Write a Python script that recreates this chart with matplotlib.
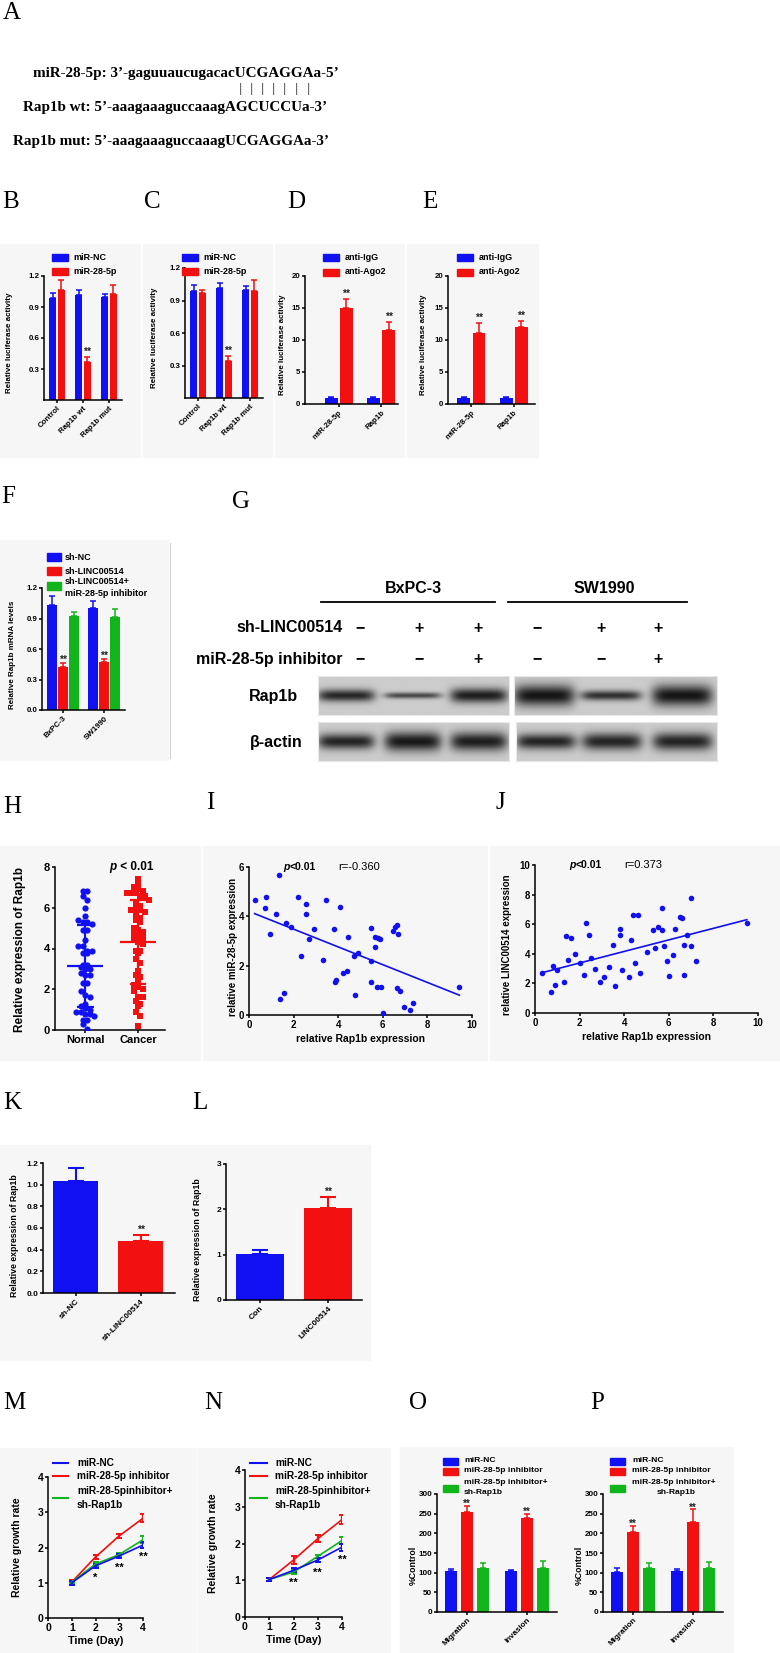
import numpy as np
import matplotlib.pyplot as plt
from matplotlib.patches import Rectangle
from matplotlib.lines import Line2D

plt.rcParams['font.family'] = ['Liberation Sans', 'DejaVu Sans']

BLUE = '#1010f2'
RED = '#f21010'
GREEN = '#12b41c'
BOX = '#f6f6f6'

# ---------------- data ----------------
seq_mir = "miR-28-5p: 3’-gaguuaucugacacUCGAGGAa-5’"
seq_wt = "Rap1b wt: 5’-aaagaaaguccaaagAGCUCCUa-3’"
seq_mut = "Rap1b mut: 5’-aaagaaaguccaaagUCGAGGAa-3’"
seed = "UCGAGGA"

luc_cats = ['Control', 'Rap1b wt', 'Rap1b mut']
b_nc = [0.99, 1.02, 1.00]
b_nc_err = [0.05, 0.04, 0.03]
b_mir = [1.06, 0.37, 1.03]
b_mir_err = [0.10, 0.05, 0.08]
c_nc = [0.99, 1.02, 1.00]
c_nc_err = [0.05, 0.04, 0.03]
c_mir = [0.97, 0.34, 0.99]
c_mir_err = [0.03, 0.05, 0.10]

rip_cats = ['miR-28-5p', 'Rap1b']
d_igg = [1.0, 1.0]
d_igg_err = [0.1, 0.1]
d_ago = [15.0, 11.5]
d_ago_err = [1.4, 1.3]
e_igg = [1.0, 1.0]
e_igg_err = [0.1, 0.1]
e_ago = [11.1, 12.0]
e_ago_err = [1.6, 1.0]

f_cats = ['BxPC-3', 'SW1990']
f_nc = [1.03, 1.00]
f_nc_err = [0.09, 0.07]
f_sh = [0.42, 0.47]
f_sh_err = [0.04, 0.03]
f_inh = [0.92, 0.91]
f_inh_err = [0.04, 0.08]

g_rows = ['sh-LINC00514', 'miR-28-5p inhibitor']
g_signs = [['−', '+', '+', '−', '+', '+'],
           ['−', '−', '+', '−', '−', '+']]
rap1b_strength = [0.90, 0.72, 0.95, 1.00, 0.85, 1.00]
rap1b_thick = [0.16, 0.08, 0.19, 0.27, 0.13, 0.27]
actin_strength = [0.92, 0.98, 0.95, 0.92, 0.92, 0.92]
actin_thick = [0.20, 0.25, 0.24, 0.20, 0.22, 0.23]

h_normal = [6.8, 6.8, 6.6, 6.4, 6.0, 5.6, 5.4, 5.3, 5.3, 5.2, 4.9, 4.9, 4.4, 4.1, 4.1,
            3.9, 3.9, 3.8, 3.8, 3.2, 3.2, 3.1, 3.0, 3.0, 2.8, 2.7, 2.7, 2.3, 2.3, 1.9,
            1.7, 1.6, 1.3, 1.2, 1.1, 1.0, 0.9, 0.9, 0.8, 0.8, 0.7, 0.5, 0.5, 0.3, 0.05]
h_cancer = [7.4, 7.2, 7.0, 6.9, 6.8, 6.7, 6.7, 6.7, 6.6, 6.6, 6.4, 6.2, 6.1, 5.9, 5.9,
            5.9, 5.8, 5.7, 5.5, 5.4, 5.3, 5.0, 4.9, 4.8, 4.7, 4.6, 4.5, 4.4, 4.3, 4.2,
            3.9, 3.9, 3.8, 3.5, 3.3, 2.9, 2.7, 2.6, 2.4, 2.2, 2.1, 2.0, 1.9, 1.6, 1.6,
            1.4, 1.3, 1.2, 0.9, 0.7, 0.2]

i_x = [0.25, 0.70, 0.78, 0.93, 1.20, 1.35, 1.41, 1.56, 1.65, 1.90, 2.20, 2.35, 2.55, 2.55,
       2.70, 2.90, 3.33, 3.45, 3.80, 3.85, 3.90, 4.08, 4.23, 4.38, 4.44, 4.70, 4.74, 4.90,
       5.46, 5.46, 5.49, 5.64, 5.67, 5.76, 5.80, 5.88, 5.91, 6.03, 6.45, 6.55, 6.63, 6.66,
       6.63, 6.78, 6.96, 7.20, 7.35, 9.43]
i_y = [4.67, 4.34, 4.77, 3.29, 4.10, 5.69, 0.65, 0.91, 3.73, 3.56, 4.77, 2.40, 4.51, 4.10,
       3.08, 3.50, 2.21, 4.67, 3.50, 1.33, 1.40, 4.38, 1.69, 1.80, 3.16, 2.40, 0.81, 2.53,
       3.51, 1.33, 2.17, 3.16, 2.74, 1.15, 3.12, 3.09, 1.15, 0.07, 3.39, 3.56, 3.66, 3.29,
       1.11, 0.99, 0.34, 0.20, 0.50, 1.12]
i_fit = [4.20, -0.36]   # intercept, slope

j_x = [0.3, 0.7, 0.8, 0.9, 1.0, 1.3, 1.4, 1.5, 1.6, 1.8, 2.0, 2.2, 2.3, 2.4, 2.5, 2.7, 2.9,
       3.1, 3.3, 3.5, 3.6, 3.8, 3.8, 3.9, 4.2, 4.3, 4.4, 4.6, 4.5, 4.7, 5.0, 5.3, 5.5, 5.4,
       5.7, 5.7, 5.8, 5.9, 6.0, 6.2, 6.3, 6.5, 6.6, 6.7, 6.8, 6.7, 7.0, 7.0, 7.2, 9.5]
j_y = [2.7, 1.4, 3.2, 1.9, 2.9, 2.1, 5.2, 3.6, 5.1, 4.0, 3.4, 2.6, 6.1, 5.3, 3.7, 3.0, 2.1,
       2.4, 3.1, 4.6, 1.8, 5.7, 5.3, 2.9, 2.4, 4.9, 6.6, 6.6, 3.4, 2.7, 4.1, 5.6, 5.8, 4.4,
       7.1, 5.6, 4.5, 3.5, 2.5, 3.9, 5.7, 6.5, 6.4, 4.6, 5.3, 2.6, 4.5, 7.8, 3.5, 6.1]
j_fit = [2.60, 0.39]

k_cats = ['sh-NC', 'sh-LINC00514']
k_vals = [1.03, 0.48]
k_err = [0.12, 0.06]
l_cats = ['Con', 'LINC00514']
l_vals = [1.02, 2.02]
l_err = [0.09, 0.26]

days = [1, 2, 3, 4]
m_nc = [1.00, 1.48, 1.76, 2.07]
m_nc_err = [0.06, 0.06, 0.05, 0.09]
m_inh = [1.02, 1.73, 2.33, 2.83]
m_inh_err = [0.05, 0.07, 0.06, 0.11]
m_sh = [1.02, 1.53, 1.80, 2.22]
m_sh_err = [0.04, 0.06, 0.05, 0.10]
m_marks = ['', '*', '**', '**']
n_nc = [1.02, 1.27, 1.55, 1.90]
n_nc_err = [0.05, 0.05, 0.06, 0.10]
n_inh = [1.02, 1.55, 2.13, 2.65]
n_inh_err = [0.05, 0.10, 0.10, 0.12]
n_sh = [1.02, 1.22, 1.65, 2.08]
n_sh_err = [0.04, 0.05, 0.05, 0.10]
n_marks = ['', '**', '**', '**']

mig_cats = ['Migration', 'Invasion']
o_nc = [103, 103]
o_nc_err = [7, 4]
o_inh = [255, 238]
o_inh_err = [15, 12]
o_sh = [113, 113]
o_sh_err = [11, 16]
p_nc = [102, 103]
p_nc_err = [11, 7]
p_inh = [203, 229]
p_inh_err = [16, 32]
p_sh = [112, 113]
p_sh_err = [12, 14]

# ---------------- helpers ----------------
W, H = 780, 1653
fig = plt.figure(figsize=(7.8, 16.53), dpi=100)


def axes_px(x0, y0, x1, y1):
    return fig.add_axes([x0 / W, 1 - y1 / H, (x1 - x0) / W, (y1 - y0) / H])


def ftext(x, y, s, **kw):
    return fig.text(x / W, 1 - y / H, s, **kw)


def frect(x0, y0, x1, y1, color, z=-1):
    fig.patches.append(Rectangle((x0 / W, 1 - y1 / H), (x1 - x0) / W, (y1 - y0) / H,
                                 transform=fig.transFigure, color=color, zorder=z))


def fline(x0, y0, x1, y1, **kw):
    fig.add_artist(Line2D([x0 / W, x1 / W], [1 - y0 / H, 1 - y1 / H],
                          transform=fig.transFigure, **kw))


def style(ax, fs):
    ax.set_facecolor('none')
    ax.spines[['top', 'right']].set_visible(False)
    ax.spines[['left', 'bottom']].set_linewidth(1.1)
    ax.tick_params(length=2.5, width=1.1, labelsize=fs, pad=1)
    for lab in ax.get_xticklabels() + ax.get_yticklabels():
        lab.set_fontweight('bold')


def grouped(ax, series, errs, colors, width, offsets, cats, rot=45, fs=5.5):
    x = np.arange(len(cats))
    for vals, e, c, off in zip(series, errs, colors, offsets):
        ax.bar(x + off, vals, width, color=c,
               yerr=[np.zeros(len(e)), e],
               error_kw=dict(ecolor=c, elinewidth=1.1, capsize=2, capthick=1.1))
    ax.set_xticks(x)
    ax.set_xticklabels(cats, rotation=rot, ha='right', rotation_mode='anchor', fontsize=fs)
    return x


def stars(ax, xs, vals, errs, pad, s='**', fs=7.5):
    for xx, v, e in zip(xs, vals, errs):
        ax.text(xx, v + e + pad, s, ha='center', va='bottom', fontsize=fs,
                fontweight='bold', color='#222222')


def patch_legend(xp, pw, ph, xt, rows, fs):
    for y, c, s in rows:
        if c is not None:
            frect(xp, y - ph / 2, xp + pw, y + ph / 2, c, z=3)
        if s:
            ftext(xt, y, s, fontsize=fs, fontweight='bold', va='center', ha='left')


def line_legend(x0, x1, xt, rows, fs):
    for y, c, s in rows:
        if c is not None:
            fline(x0, y, x1, y, color=c, lw=1.5)
        if s:
            ftext(xt, y, s, fontsize=fs, fontweight='bold', va='center', ha='left')


def letter(x, y, s):
    ftext(x, y, s, fontsize=18, family='Liberation Serif', ha='center', va='center')


# background boxes of the pasted panels
for bx in [(0, 244, 140, 457), (143, 244, 272, 457), (275, 244, 404, 457),
           (407, 244, 538, 457), (0, 540, 168, 760), (0, 846, 200, 1060),
           (203, 846, 487, 1060), (490, 846, 780, 1060), (0, 1145, 370, 1360),
           (0, 1448, 195, 1653), (197, 1448, 390, 1653), (400, 1447, 733, 1653)]:
    frect(*bx, BOX)

# ---------------- A ----------------
letter(12, 13, 'A')
seq_kw = dict(fontsize=10.9, family='Liberation Serif', fontweight='bold', va='center')
t1 = ftext(33, 73, seq_mir, **seq_kw)
ftext(23, 107, seq_wt, **seq_kw)
ftext(13, 142, seq_mut, **seq_kw)
rend = fig.canvas.get_renderer()
start = seq_mir.index(seed)
for k in range(len(seed)):
    tmp = ftext(33, 73, seq_mir[:start + k], **seq_kw)
    w0 = tmp.get_window_extent(rend).width
    tmp.remove()
    tmp = ftext(33, 73, seed[k], **seq_kw)
    wl = tmp.get_window_extent(rend).width
    tmp.remove()
    ftext(33 + w0 + wl / 2, 89, '|', fontsize=9, color='#555555', ha='center', va='center')

# ---------------- B-E ----------------
for lx, lab in [(11, 'B'), (152, 'C'), (296, 'D'), (430, 'E')]:
    letter(lx, 202, lab)

for (x0, y0, x1, y1), nc, nce, mr, mre, lp, ylx in [
        ((44, 276, 122, 400), b_nc, b_nc_err, b_mir, b_mir_err, 52, 10),
        ((185, 268, 263, 398), c_nc, c_nc_err, c_mir, c_mir_err, 182, 155)]:
    ax = axes_px(x0, y0, x1, y1)
    x = grouped(ax, [nc, mr], [nce, mre], [BLUE, RED], 0.3, [-0.17, 0.17], luc_cats)
    stars(ax, [x[1] + 0.17], [mr[1]], [mre[1]], 0.0)
    ax.set_xlim(-0.5, 2.5)
    ax.set_ylim(0, 1.2)
    ax.set_yticks([0.3, 0.6, 0.9, 1.2])
    style(ax, 5.7)
    ftext(ylx, (y0 + y1) / 2 + 5, 'Relative luciferase activity', rotation=90, fontsize=5.8,
          fontweight='bold', ha='center', va='center')
    patch_legend(lp, 16, 7, lp + 21, [(257, BLUE, 'miR-NC'), (271, RED, 'miR-28-5p')], 6.5)

for (x0, y0, x1, y1), xl, ig, ige, ag, age, lp, ylx in [
        ((305, 276, 398, 404), (-0.8, 1.4), d_igg, d_igg_err, d_ago, d_ago_err, 323, 283),
        ((448, 276, 535, 404), (-0.55, 1.5), e_igg, e_igg_err, e_ago, e_ago_err, 457, 424)]:
    ax = axes_px(x0, y0, x1, y1)
    x = grouped(ax, [ig, ag], [ige, age], [BLUE, RED], 0.3, [-0.18, 0.18], rip_cats)
    stars(ax, x + 0.18, ag, age, 0.0)
    ax.set_xlim(*xl)
    ax.set_ylim(0, 20)
    ax.set_yticks([0, 5, 10, 15, 20])
    style(ax, 5.7)
    ftext(ylx, (y0 + y1) / 2 + 5, 'Relative luciferase activity', rotation=90, fontsize=5.8,
          fontweight='bold', ha='center', va='center')
    patch_legend(lp, 16, 7, lp + 22, [(257, BLUE, 'anti-IgG'), (272, RED, 'anti-Ago2')], 6.5)

# ---------------- F ----------------
letter(8, 497, 'F')
ax = axes_px(42, 588, 125, 710)
x = grouped(ax, [f_nc, f_sh, f_inh], [f_nc_err, f_sh_err, f_inh_err], [BLUE, RED, GREEN],
            0.24, [-0.26, 0.0, 0.26], f_cats)
stars(ax, x, f_sh, f_sh_err, -0.02)
ax.set_xlim(-0.5, 1.5)
ax.set_ylim(0, 1.2)
ax.set_yticks([0.0, 0.3, 0.6, 0.9, 1.2])
style(ax, 5.7)
ftext(13, 655, 'Relative Rap1b mRNA levels', rotation=90, fontsize=5.8, fontweight='bold',
      ha='center', va='center')
patch_legend(47, 14, 8, 65, [(557, BLUE, 'sh-NC'), (571, RED, 'sh-LINC00514'),
                             (582, None, 'sh-LINC00514+'), (586, GREEN, ''),
                             (593, None, 'miR-28-5p inhibitor')], 6.5)
fline(170, 543, 170, 758, color='#d0d0d0', lw=0.8)

# ---------------- G ----------------
letter(241, 502, 'G')
gkw = dict(fontsize=11.5, fontweight='bold', va='center')
ftext(413, 588, 'BxPC-3', ha='center', **gkw)
ftext(604, 588, 'SW1990', ha='center', **gkw)
fline(321, 602, 495, 602, color='black', lw=1.3)
fline(508, 602, 687, 602, color='black', lw=1.3)
sign_x = [360, 419, 478, 537, 601, 658]
for ry, name, signs in zip([628, 659], g_rows, g_signs):
    ftext(343, ry, name, ha='right', **gkw)
    for sx, s in zip(sign_x, signs):
        ftext(sx, ry, s, ha='center', **gkw)
ftext(298, 696, 'Rap1b', ha='right', **gkw)
ftext(303, 742, 'β-actin', ha='right', **gkw)


def blot(box, strengths, thicks, lanes):
    bax = axes_px(*box)
    hh, ww = 60, 300
    yy, xx = np.mgrid[0:hh, 0:ww]
    yy = yy / (hh - 1)
    xx = xx / (ww - 1)
    img = np.full((hh, ww), 0.80)
    for c, s, t in zip(lanes, strengths, thicks):
        px = np.exp(-((xx - c) / 0.15) ** 6)
        py = np.exp(-((yy - 0.5) / t) ** 2)
        img -= 0.72 * s * px * py
    bax.imshow(img, cmap='gray', vmin=0, vmax=1, aspect='auto', extent=(0, 1, 1, 0),
               interpolation='bilinear')
    bax.set_xticks([])
    bax.set_yticks([])
    for sp in bax.spines.values():
        sp.set_color('#e8e8e8')


lanes_l = [0.147, 0.497, 0.843]
lanes_r = [0.148, 0.478, 0.830]
blot((318, 676, 509, 715), rap1b_strength[:3], rap1b_thick[:3], lanes_l)
blot((514, 676, 717, 715), rap1b_strength[3:], rap1b_thick[3:], lanes_r)
blot((318, 722, 509, 761), actin_strength[:3], actin_thick[:3], lanes_l)
blot((516, 722, 717, 761), actin_strength[3:], actin_thick[3:], lanes_r)

# ---------------- H ----------------
letter(12, 807, 'H')


def swarm(vals, binw=0.32, step=0.085):
    vals = np.asarray(vals)
    offs = np.zeros(len(vals))
    bins = np.floor(vals / binw)
    for b in np.unique(bins):
        idx = np.where(bins == b)[0]
        offs[idx] = (np.arange(len(idx)) - (len(idx) - 1) / 2) * step
    return offs


ax = axes_px(55, 867, 165, 1030)
for xc, vals, c, mk in [(0, h_normal, BLUE, 'o'), (1, h_cancer, RED, 's')]:
    vals = np.asarray(vals)
    ax.scatter(xc + swarm(vals), vals, s=20, color=c, marker=mk, lw=0, zorder=3)
    m, sd = vals.mean(), vals.std(ddof=1)
    ax.hlines(m, xc - 0.34, xc + 0.34, color=c, lw=1.6, zorder=4)
    ax.vlines(xc, m - sd, m + sd, color=c, lw=1.6, zorder=4)
    ax.hlines([m - sd, m + sd], xc - 0.16, xc + 0.16, color=c, lw=1.6, zorder=4)
ax.set_xlim(-0.57, 1.51)
ax.set_ylim(0, 8)
ax.set_yticks([0, 2, 4, 6, 8])
ax.set_xticks([0, 1])
ax.set_xticklabels(['Normal', 'Cancer'], fontsize=8.5)
style(ax, 8)
ax.text(0.6, 8.0, 'p', fontsize=8.5, fontweight='bold', style='italic', ha='right', va='center')
ax.text(0.6, 8.0, ' < 0.01', fontsize=8.5, fontweight='bold', ha='left', va='center')
ftext(20, 950, 'Relative expression of Rap1b', rotation=90, fontsize=8.5, fontweight='bold',
      ha='center', va='center')

# ---------------- I / J ----------------
letter(210, 803, 'I')
letter(500, 803, 'J')
for (x0, y0, x1, y1), xs, ys, fit, ymax, yt, ylab, ylx, rtxt in [
        ((249, 867, 472, 1015), i_x, i_y, i_fit, 6, [0, 2, 4, 6],
         'relative miR-28-5p expression', 233, 'r=-0.360'),
        ((535, 865, 758, 1013), j_x, j_y, j_fit, 10, [0, 2, 4, 6, 8, 10],
         'relative LINC00514 expression', 507, 'r=0.373')]:
    ax = axes_px(x0, y0, x1, y1)
    ax.scatter(xs, ys, s=16, color=BLUE, lw=0, zorder=3)
    lx = np.array([min(xs), max(xs)])
    ax.plot(lx, fit[0] + fit[1] * lx, color=BLUE, lw=1.2)
    ax.set_xlim(0, 10)
    ax.set_ylim(0, ymax)
    ax.set_xticks([0, 2, 4, 6, 8, 10])
    ax.set_yticks(yt)
    style(ax, 7)
    ax.text(1.8, ymax, 'p', fontsize=7.5, fontweight='bold', style='italic', ha='right',
            va='center')
    ax.text(1.8, ymax, '<0.01', fontsize=7.5, fontweight='bold', ha='left', va='center')
    ax.text(4.0, ymax, rtxt, fontsize=8, ha='left', va='center')
    ax.set_xlabel('relative Rap1b expression', fontsize=7.5, fontweight='bold', labelpad=3)
    ftext(ylx, (y0 + y1) / 2 + 6, ylab, rotation=90, fontsize=7, fontweight='bold',
          ha='center', va='center')

# ---------------- K / L ----------------
letter(12, 1103, 'K')
letter(200, 1103, 'L')
for (x0, y0, x1, y1), cats, vals, errs, xl, ymax, yt, ylx in [
        ((43, 1163, 175, 1293), k_cats, k_vals, k_err, (-0.5, 1.53), 1.2,
         [0.0, 0.2, 0.4, 0.6, 0.8, 1.0, 1.2], 15),
        ((226, 1164, 362, 1300), l_cats, l_vals, l_err, (-0.5, 1.5), 3,
         [0, 1, 2, 3], 197)]:
    ax = axes_px(x0, y0, x1, y1)
    x = np.arange(len(cats))
    ax.bar(x, vals, 0.7, color=[BLUE, RED])
    for xx, v, e, c in zip(x, vals, errs, [BLUE, RED]):
        ax.errorbar([xx], [v], yerr=[[0], [e]], ecolor=c, elinewidth=1.5, capsize=6,
                    capthick=1.5, fmt='none')
    stars(ax, [x[1]], [vals[1]], [errs[1]], 0.0)
    ax.set_xticks(x)
    ax.set_xticklabels(cats, rotation=45, ha='right', rotation_mode='anchor', fontsize=6)
    ax.set_xlim(*xl)
    ax.set_ylim(0, ymax)
    ax.set_yticks(yt)
    style(ax, 6)
    ftext(ylx, (y0 + y1) / 2 + 8, 'Relative expression of Rap1b', rotation=90, fontsize=6.3,
          fontweight='bold', ha='center', va='center')

# ---------------- M / N ----------------
letter(14, 1403, 'M')
letter(213, 1403, 'N')
for (x0, y0, x1, y1), nc, nce, inh, inhe, sh, she, marks, ll, ylx in [
        ((48, 1477, 143, 1618), m_nc, m_nc_err, m_inh, m_inh_err, m_sh, m_sh_err, m_marks,
         (53, 68, 77), 17),
        ((245, 1470, 342, 1617), n_nc, n_nc_err, n_inh, n_inh_err, n_sh, n_sh_err, n_marks,
         (250, 267, 275), 213)]:
    ax = axes_px(x0, y0, x1, y1)
    for vals, e, c in [(inh, inhe, RED), (sh, she, GREEN), (nc, nce, BLUE)]:
        ax.errorbar(days, vals, yerr=e, color=c, lw=1.2, elinewidth=1.6, capsize=2.2,
                    capthick=1.4)
    for d, v, mk in zip(days, nc, marks):
        if mk:
            ax.text(d, v - 0.2, mk, ha='center', va='top', fontsize=8, fontweight='bold')
    ax.set_xlim(0, 4)
    ax.set_ylim(0, 4)
    ax.set_xticks([0, 1, 2, 3, 4])
    ax.set_yticks([0, 1, 2, 3, 4])
    style(ax, 7.5)
    ax.set_xlabel('Time (Day)', fontsize=7.8, fontweight='bold', labelpad=2)
    ftext(ylx, (y0 + y1) / 2, 'Relative growth rate', rotation=90, fontsize=7.5,
          fontweight='bold', ha='center', va='center')
    line_legend(ll[0], ll[1], ll[2], [(1463, BLUE, 'miR-NC'), (1476, RED, 'miR-28-5p inhibitor'),
                                      (1491, None, 'miR-28-5pinhibitor+'), (1498, GREEN, ''),
                                      (1505, None, 'sh-Rap1b')], 7.3)

# ---------------- O / P ----------------
letter(418, 1403, 'O')
letter(597, 1403, 'P')
for (x0, y0, x1, y1), nc, nce, inh, inhe, sh, she, lp, lt, lt2, ylx in [
        ((437, 1494, 557, 1612), o_nc, o_nc_err, o_inh, o_inh_err, o_sh, o_sh_err,
         443, 464, 464, 413),
        ((603, 1494, 723, 1612), p_nc, p_nc_err, p_inh, p_inh_err, p_sh, p_sh_err,
         610, 632, 657, 579)]:
    ax = axes_px(x0, y0, x1, y1)
    x = grouped(ax, [nc, inh, sh], [nce, inhe, she], [BLUE, RED, GREEN], 0.2,
                [-0.27, 0.0, 0.27], mig_cats, fs=5.8)
    stars(ax, x, inh, inhe, -8, fs=7)
    ax.set_xlim(-0.5, 1.5)
    ax.set_ylim(0, 300)
    ax.set_yticks([0, 50, 100, 150, 200, 250, 300])
    style(ax, 5.8)
    ftext(ylx, 1565, '%Control', rotation=90, fontsize=6.3, fontweight='bold',
          ha='center', va='center')
    patch_legend(lp, 15, 7, lt, [(1461, BLUE, 'miR-NC'), (1471, RED, 'miR-28-5p inhibitor'),
                                 (1482, None, 'miR-28-5p inhibitor+'), (1488, GREEN, '')], 6.1)
    ftext(lt2, 1493, 'sh-Rap1b', fontsize=6.1, fontweight='bold', va='center', ha='left')

fig.savefig('out.png', dpi=100)
